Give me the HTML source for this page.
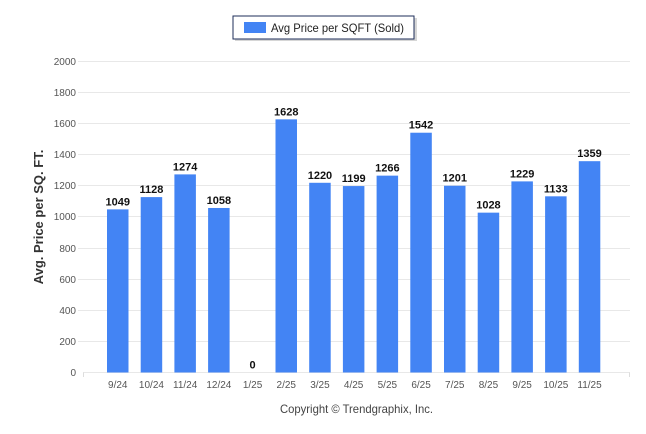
<!DOCTYPE html>
<html><head><meta charset="utf-8"><style>
html,body{margin:0;padding:0;background:#fff;}
svg{display:block;font-family:"Liberation Sans",sans-serif;}
</style></head><body>
<svg width="646" height="434" viewBox="0 0 646 434" xmlns="http://www.w3.org/2000/svg">
<rect x="235" y="18" width="182" height="23" fill="#bbb" opacity="0.6"/>
<rect x="233" y="16" width="181" height="23" fill="#fff" stroke="#1e2d5a" stroke-width="1"/>
<rect x="244" y="22" width="22" height="11" fill="#4384f4"/>
<text x="271" y="32" font-size="12" fill="#222" textLength="133" lengthAdjust="spacingAndGlyphs">Avg Price per SQFT (Sold)</text>
<g stroke="#e8e8e8" stroke-width="1">
<line x1="78" x2="630" y1="61.5" y2="61.5"/><line x1="78" x2="630" y1="92.5" y2="92.5"/>
<line x1="78" x2="630" y1="123.5" y2="123.5"/><line x1="78" x2="630" y1="154.5" y2="154.5"/>
<line x1="78" x2="630" y1="185.5" y2="185.5"/><line x1="78" x2="630" y1="216.5" y2="216.5"/>
<line x1="78" x2="630" y1="248.5" y2="248.5"/><line x1="78" x2="630" y1="279.5" y2="279.5"/>
<line x1="78" x2="630" y1="310.5" y2="310.5"/><line x1="78" x2="630" y1="341.5" y2="341.5"/>
<line x1="83" x2="630" y1="372.5" y2="372.5"/>
</g>
<g font-size="10" fill="#555" text-anchor="end">
<text x="76" y="65">2000</text><text x="76" y="96">1800</text><text x="76" y="127">1600</text>
<text x="76" y="158">1400</text><text x="76" y="189">1200</text><text x="76" y="220">1000</text>
<text x="76" y="252">800</text><text x="76" y="283">600</text><text x="76" y="314">400</text>
<text x="76" y="345">200</text><text x="76" y="376">0</text>
</g>
<text transform="translate(43,217) rotate(-90)" text-anchor="middle" font-size="13" font-weight="bold" fill="#333">Avg. Price per SQ. FT.</text>
<g fill="#4384f4">
<rect x="107" y="209.38" width="21.5" height="163.12"/>
<rect x="140.7" y="197.1" width="21.5" height="175.4"/>
<rect x="174.4" y="174.39" width="21.5" height="198.11"/>
<rect x="208.1" y="207.98" width="21.5" height="164.52"/>
<rect x="275.5" y="119.35" width="21.5" height="253.15"/>
<rect x="309.2" y="182.79" width="21.5" height="189.71"/>
<rect x="342.9" y="186.06" width="21.5" height="186.44"/>
<rect x="376.6" y="175.64" width="21.5" height="196.86"/>
<rect x="410.3" y="132.72" width="21.5" height="239.78"/>
<rect x="444" y="185.74" width="21.5" height="186.76"/>
<rect x="477.7" y="212.65" width="21.5" height="159.85"/>
<rect x="511.4" y="181.39" width="21.5" height="191.11"/>
<rect x="545.1" y="196.32" width="21.5" height="176.18"/>
<rect x="578.8" y="161.18" width="21.5" height="211.32"/>
</g>
<g font-size="11" font-weight="bold" fill="#111" text-anchor="middle">
<text x="117.75" y="205.4">1049</text>
<text x="151.45" y="193.1">1128</text>
<text x="185.15" y="170.4">1274</text>
<text x="218.85" y="204">1058</text>
<text x="252.55" y="368.5">0</text>
<text x="286.25" y="115.4">1628</text>
<text x="319.95" y="178.8">1220</text>
<text x="353.65" y="182.1">1199</text>
<text x="387.35" y="171.6">1266</text>
<text x="421.05" y="128.7">1542</text>
<text x="454.75" y="181.7">1201</text>
<text x="488.45" y="208.7">1028</text>
<text x="522.15" y="177.4">1229</text>
<text x="555.85" y="192.3">1133</text>
<text x="589.55" y="157.2">1359</text>
</g>
<g font-size="10" fill="#555" text-anchor="middle">
<text x="117.75" y="388">9/24</text><text x="151.45" y="388">10/24</text><text x="185.15" y="388">11/24</text>
<text x="218.85" y="388">12/24</text><text x="252.55" y="388">1/25</text><text x="286.25" y="388">2/25</text>
<text x="319.95" y="388">3/25</text><text x="353.65" y="388">4/25</text><text x="387.35" y="388">5/25</text>
<text x="421.05" y="388">6/25</text><text x="454.75" y="388">7/25</text><text x="488.45" y="388">8/25</text>
<text x="522.15" y="388">9/25</text><text x="555.85" y="388">10/25</text><text x="589.55" y="388">11/25</text>
</g>
<g stroke="#ddd">
<line x1="83.5" x2="83.5" y1="372.5" y2="377"/>
<line x1="629.5" x2="629.5" y1="372.5" y2="377"/>
</g>
<text x="280" y="413" font-size="12" fill="#444" textLength="153" lengthAdjust="spacingAndGlyphs">Copyright © Trendgraphix, Inc.</text>
</svg>
</body></html>
